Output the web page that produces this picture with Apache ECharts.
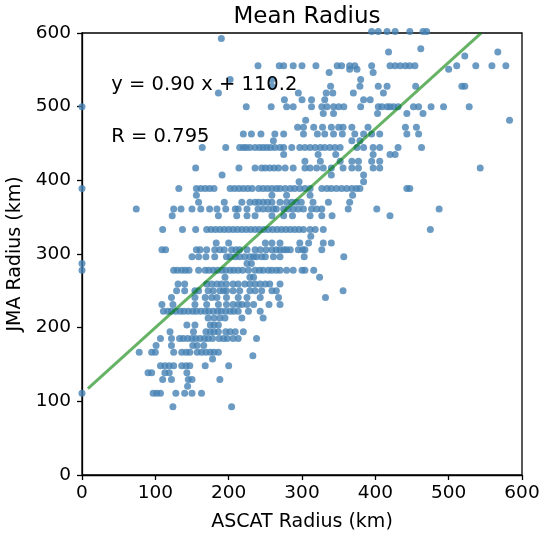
<!DOCTYPE html>
<html>
<head>
<meta charset="utf-8">
<script src="https://cdn.jsdelivr.net/npm/echarts@6/dist/echarts.min.js"></script>
<style>
  html, body { margin: 0; padding: 0; background: #fff; }
  #chart { width: 544px; height: 533px; }
</style>
</head>
<body>
<div id="chart"></div>
<script>
// JMA radius levels (km) and the ASCAT radii (km) read for each level
const jmaLevels = [92.6, 111.1, 120.4, 129.6, 138.9, 148.2, 157.4, 162.0, 166.7, 175.9,
    185.2, 194.5, 203.7, 213.0, 222.2, 231.5, 240.8, 250.0, 259.3, 268.5,
    277.8, 287.0, 296.3, 305.6, 314.8, 324.1, 333.4, 351.9, 361.1, 370.4,
    379.6, 388.9, 398.2, 407.4, 416.7, 426.0, 435.2, 444.5, 453.7, 463.0,
    472.2, 481.5, 490.8, 500.0, 509.3, 518.5, 527.8, 537.0, 546.3, 550.7,
    555.6, 568.7, 574.1, 578.7, 592.6, 601.9];

const ascatAtLevel = [
    [124, 204],
    [0, 97, 102, 107, 128, 140, 150, 163],
    [144],
    [110, 122, 145, 150, 188],
    [90, 95, 113, 119, 143],
    [107, 113, 119, 125, 136, 142, 147, 168, 200],
    [178],
    [233],
    [78, 95, 100, 125, 136, 142, 147, 157, 163, 169, 175, 180, 186],
    [101, 122, 151, 157, 166],
    [107, 122, 133, 138, 144, 150, 155, 161, 167, 172, 178, 187, 193, 198, 206, 213, 238],
    [120, 152, 169, 175, 180, 186, 196, 202, 209, 220],
    [143, 154, 175, 180, 186],
    [172, 180, 188, 195, 218, 247],
    [111, 117, 122, 128, 134, 139, 145, 151, 156, 162, 168, 173, 179, 185, 190, 196, 202, 207, 213, 227, 243],
    [109, 124, 154, 170, 186, 197, 206, 213, 218, 225, 234, 255, 270],
    [122, 154, 168, 177, 184, 197, 213, 225, 243, 268, 332],
    [129, 140, 154, 159, 172, 179, 188, 193, 197, 206, 215, 229, 236, 245, 259, 265, 356],
    [131, 140, 170, 177, 184, 190, 197, 206, 213, 222, 229, 236, 243, 250, 256, 270],
    [195, 229, 234, 324],
    [0, 125, 130, 136, 141, 146, 159, 168, 173, 179, 185, 191, 196, 202, 207, 213, 219, 227, 236, 242, 247, 254, 259, 265, 270, 279, 288, 300, 304, 316],
    [0, 225, 231],
    [150, 159, 169, 181, 197, 202, 209, 215, 222, 229, 234, 238, 245, 250, 261, 270, 303, 357],
    [109, 114, 156, 161, 170, 181, 188, 194, 204, 210, 215, 225, 236, 243, 251, 259, 265, 270, 275, 279, 284, 295, 301, 304, 327],
    [183, 200, 250, 259, 270, 297, 309, 329, 340],
    [312],
    [110, 137, 155, 170, 176, 182, 188, 194, 200, 206, 212, 218, 224, 230, 236, 242, 248, 254, 260, 266, 272, 278, 284, 290, 296, 302, 311, 318, 329, 475],
    [123, 186, 211, 225, 236, 259, 275, 287, 311, 327, 341, 420],
    [74, 125, 135, 150, 162, 174, 184, 196, 209, 213, 225, 240, 247, 254, 261, 265, 275, 281, 288, 295, 302, 313, 320, 327, 363, 402, 487],
    [159, 194, 218, 229, 236, 241, 247, 253, 259, 270, 279, 286, 292, 299, 315, 336, 365],
    [156, 259, 279, 311, 369],
    [0, 132, 156, 162, 168, 174, 180, 202, 208, 214, 220, 226, 232, 241, 247, 253, 259, 265, 270, 277, 284, 290, 297, 304, 311, 327, 334, 340, 347, 354, 361, 368, 374, 379, 443, 447],
    [296, 384],
    [191, 340, 384],
    [155, 214, 236, 245, 250, 256, 262, 268, 277, 288, 304, 311, 320, 329, 340, 356, 368, 377, 397, 406, 543],
    [304, 325, 352, 368, 377, 395, 406],
    [275, 322, 346, 397, 420, 427],
    [164, 196, 215, 220, 224, 229, 236, 242, 247, 252, 257, 263, 270, 275, 286, 297, 304, 311, 318, 325, 331, 338, 345, 352, 375, 384, 397, 406, 431, 463],
    [261, 368, 379],
    [220, 231, 244, 263, 275, 302, 321, 331, 343, 355, 372, 384, 395, 406, 443, 459],
    [294, 302, 316, 328, 340, 350, 356, 368, 390, 441, 456],
    [305, 583],
    [329, 343, 403, 443, 465],
    [0, 224, 258, 279, 288, 313, 327, 334, 343, 350, 357, 380, 404, 409, 416, 420, 425, 431, 452, 459, 476, 493, 528],
    [276, 300, 313, 331, 384, 393],
    [186, 295, 333, 342, 370, 411],
    [259, 339, 379, 404, 416, 455, 518, 522],
    [202, 259, 380],
    [337, 397],
    [365, 375, 500],
    [240, 269, 275, 288, 300, 319, 348, 354, 365, 372, 395, 420, 427, 434, 441, 447, 454, 511, 537, 559, 578],
    [522],
    [418, 567],
    [462],
    [190],
    [395, 404, 416, 427, 447, 465, 470]
];

// linear fit shown on the chart
const fitSlope = 0.90;
const fitIntercept = 110.2;
const fitRange = [8, 544.2];
const fitR = 0.795;

const axisTicks = [0, 100, 200, 300, 400, 500, 600];

const points = [];
jmaLevels.forEach((y, i) => {
    ascatAtLevel[i].forEach(x => points.push([x, y]));
});
const fitLine = fitRange.map(x => [x, fitSlope * x + fitIntercept]);

const FONT = 'DejaVu Sans';
const chart = echarts.init(document.getElementById('chart'));

const axisCommon = {
    type: 'value',
    min: axisTicks[0],
    max: axisTicks[axisTicks.length - 1],
    interval: 100,
    nameLocation: 'middle',
    nameTextStyle: { fontFamily: FONT, fontSize: 19, color: '#000' },
    axisLine: { show: true, lineStyle: { color: '#000', width: 1.3 } },
    axisTick: { show: true, inside: false, length: 5, lineStyle: { color: '#000', width: 1.3 } },
    axisLabel: { fontFamily: FONT, fontSize: 18.5, color: '#000' },
    splitLine: { show: false }
};

chart.setOption({
    animation: false,
    title: {
        text: 'Mean Radius',
        left: 302,
        top: 1,
        textAlign: 'center',
        textStyle: { fontFamily: FONT, fontSize: 23, fontWeight: 'normal', color: '#000' }
    },
    grid: {
        left: 82, top: 33, width: 440, height: 442,
        outerBoundsMode: 'none',
        show: true, borderColor: '#000', borderWidth: 1.3, backgroundColor: 'transparent'
    },
    xAxis: Object.assign({}, axisCommon, {
        name: 'ASCAT Radius (km)', nameGap: 38,
        axisLabel: Object.assign({}, axisCommon.axisLabel, { margin: 9 })
    }),
    yAxis: Object.assign({}, axisCommon, {
        name: 'JMA Radius (km)', nameGap: 57,
        axisLabel: Object.assign({}, axisCommon.axisLabel, { margin: 11 })
    }),
    series: [
        {
            type: 'scatter',
            data: points,
            symbolSize: 7,
            clip: false,
            itemStyle: { color: '#4682b4' },
            z: 2
        },
        {
            type: 'line',
            data: fitLine,
            symbol: 'none',
            lineStyle: { color: '#008000', width: 3, opacity: 0.6 },
            z: 3
        }
    ]
});

// equation text placed in data coordinates (baseline at the given point)
const eqPos = chart.convertToPixel({ gridIndex: 0 }, [40, 520]);
const rPos = chart.convertToPixel({ gridIndex: 0 }, [40, 450]);
chart.setOption({
    graphic: [
        {
            type: 'text', x: eqPos[0], y: eqPos[1] - 7,
            style: {
                text: 'y = ' + fitSlope.toFixed(2) + ' x + ' + fitIntercept.toFixed(1),
                fontFamily: FONT, fontSize: 19.5, fill: '#000',
                textAlign: 'left', textVerticalAlign: 'middle'
            },
            z: 10
        },
        {
            type: 'text', x: rPos[0], y: rPos[1] - 7,
            style: {
                text: 'R = ' + fitR.toFixed(3),
                fontFamily: FONT, fontSize: 19.5, fill: '#000',
                textAlign: 'left', textVerticalAlign: 'middle'
            },
            z: 10
        }
    ]
});
</script>
</body>
</html>
